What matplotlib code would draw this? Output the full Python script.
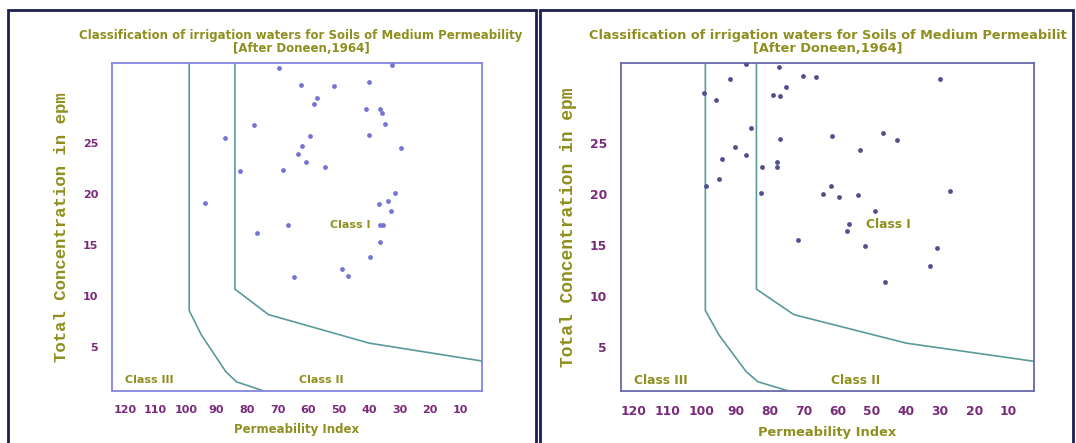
import matplotlib.pyplot as plt
from matplotlib.patches import Rectangle

# permeability index / total concentration (epm)
left_pi = [69.5, 32.4, 62.5, 51.4, 40.2, 57.0, 58.1, 41.1, 36.6, 35.8, 34.8, 77.7,
           87.4, 59.4, 39.9, 62.1, 29.7, 63.2, 60.8, 54.4, 68.2, 82.4, 93.9, 31.5,
           33.9, 36.8, 32.8, 66.5, 36.4, 35.3, 76.6, 36.5, 39.6, 48.8, 47.0, 64.5]
left_tc = [32.4, 32.7, 30.7, 30.6, 31.0, 29.5, 28.9, 28.4, 28.4, 28.0, 26.9, 26.8,
           25.5, 25.7, 25.8, 24.8, 24.6, 24.0, 23.2, 22.7, 22.4, 22.3, 19.2, 20.1,
           19.4, 19.1, 18.4, 17.0, 17.0, 17.0, 16.2, 15.3, 13.9, 12.7, 12.0, 11.9]

right_pi = [87.1, 77.4, 91.7, 70.3, 66.6, 30.1, 75.4, 99.5, 79.0, 77.0, 95.8, 85.6,
            77.1, 61.9, 46.7, 42.6, 53.4, 90.4, 94.0, 87.1, 82.3, 77.9, 77.9, 95.1,
            98.8, 82.6, 62.0, 64.3, 59.6, 54.2, 27.1, 49.0, 56.9, 57.4, 71.8, 52.1,
            30.8, 32.9, 46.1]
right_tc = [32.8, 32.5, 31.3, 31.6, 31.5, 31.3, 30.5, 30.0, 29.8, 29.7, 29.3, 26.5,
            25.4, 25.7, 26.0, 25.3, 24.4, 24.7, 23.5, 23.9, 22.7, 23.2, 22.7, 21.5,
            20.8, 20.1, 20.8, 20.0, 19.7, 19.9, 20.3, 18.4, 17.1, 16.4, 15.5, 14.9,
            14.7, 13.0, 11.4]

# Doneen class boundaries
b3_pi = [99, 99, 95, 91, 87, 83.5, 74.5]
b3_tc = [34, 8.6, 6.2, 4.4, 2.6, 1.6, 0.7]
b1_pi = [84, 84, 73, 40, 0]
b1_tc = [34, 10.7, 8.2, 5.4, 3.5]

xticks = [120, 110, 100, 90, 80, 70, 60, 50, 40, 30, 20, 10]
yticks = [5, 10, 15, 20, 25]

W, H = 1076, 443
fig = plt.figure(figsize=(W / 100, H / 100), dpi=100)

olive = '#8f8f1f'
purple = '#7a2a7a'
teal = '#5a9a9a'


def box(x0, y0, x1, y1):
    return [x0 / W, 1 - y1 / H, (x1 - x0) / W, (y1 - y0) / H]


panels = [
    dict(rect=box(112, 63, 482, 391), xlim=(124.3, 3.0), pi=left_pi, tc=left_tc,
         dot='#7474d4', frame='#8484e0', fs=1.0, tfs=8.5, yfs=12.5, ypad=10,
         title='Classification of irrigation waters for Soils of Medium Permeability',
         tx=301, cx=(149, 321, 350)),
    dict(rect=box(621, 63, 1034, 391), xlim=(123.8, 2.4), pi=right_pi, tc=right_tc,
         dot='#50508c', frame='#6a6aa8', fs=1.1, tfs=9.3, yfs=13, ypad=9,
         title='Classification of irrigation waters for Soils of Medium Permeabilit',
         tx=828, cx=(661, 856, 888)),
]

for p in panels:
    ax = fig.add_axes(p['rect'])
    fs = p['fs']
    ax.plot(b3_pi, b3_tc, color=teal, lw=1.2)
    ax.plot(b1_pi, b1_tc, color=teal, lw=1.2)
    ax.scatter(p['pi'], p['tc'], s=6, color=p['dot'], zorder=3)
    ax.set_xlim(*p['xlim'])
    ax.set_ylim(0.7, 32.9)
    ax.set_xticks(xticks)
    ax.set_yticks(yticks)
    ax.tick_params(length=0, colors=purple, labelsize=8 * fs, pad=10)
    for t in ax.get_xticklabels() + ax.get_yticklabels():
        t.set_fontweight('bold')
    for s in ax.spines.values():
        s.set_color(p['frame'])
        s.set_linewidth(1.3)
    ax.set_xlabel('Permeability Index', color=olive, fontweight='bold',
                  fontsize=8.5 * fs, labelpad=6)
    ax.set_ylabel('Total Concentration in epm', color=olive, fontweight='bold',
                  family='Liberation Mono', fontsize=p['yfs'], labelpad=p['ypad'])

    tx = p['tx'] / W
    fig.text(tx, 1 - 35 / H, p['title'], ha='center', va='center', color=olive,
             fontweight='bold', fontsize=p['tfs'])
    fig.text(tx, 1 - 48 / H, '[After Doneen,1964]', ha='center', va='center',
             color=olive, fontweight='bold', fontsize=p['tfs'])

    c3, c2, c1 = p['cx']
    fig.text(c3 / W, 1 - 380 / H, 'Class III', ha='center', va='center',
             color=olive, fontweight='bold', fontsize=8 * fs)
    fig.text(c2 / W, 1 - 380 / H, 'Class II', ha='center', va='center',
             color=olive, fontweight='bold', fontsize=8 * fs)
    fig.text(c1 / W, 1 - 225 / H, 'Class I', ha='center', va='center',
             color=olive, fontweight='bold', fontsize=8 * fs)

# panel frames
for x0, x1 in [(8, 536), (540, 1073)]:
    fig.patches.append(Rectangle((x0 / W, -0.05), (x1 - x0) / W, 1.05 - 10 / H,
                                 transform=fig.transFigure, fill=False,
                                 edgecolor='#1c2050', lw=2))

plt.savefig('out.png', dpi=100)
